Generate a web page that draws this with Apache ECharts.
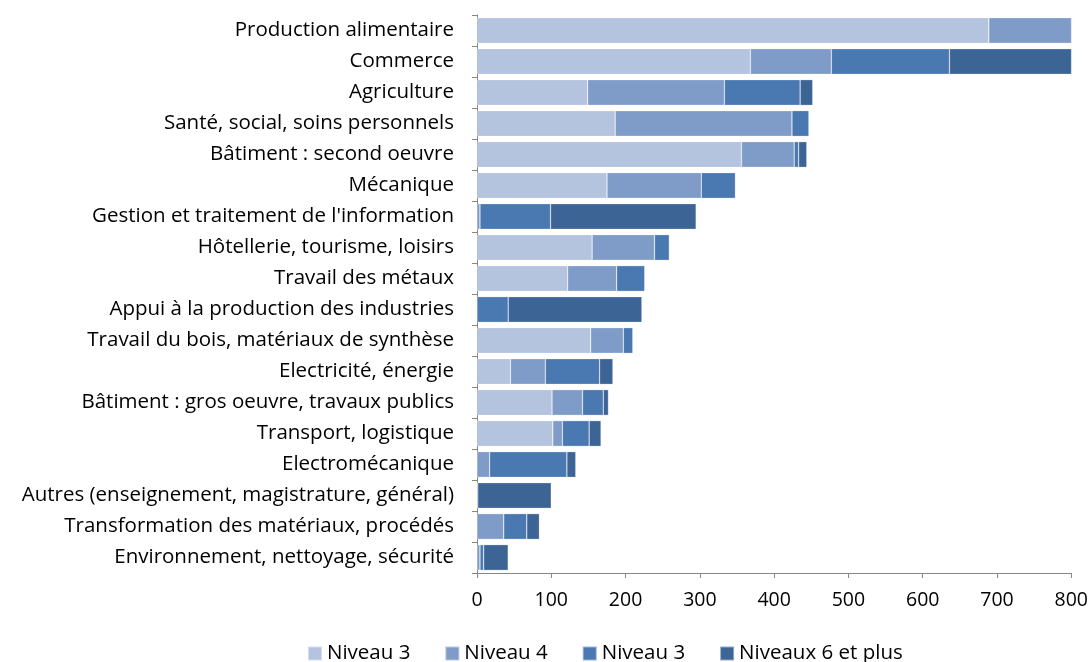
<!DOCTYPE html>
<html><head><meta charset="utf-8">
<script src="https://cdn.jsdelivr.net/npm/echarts@6/dist/echarts.min.js"></script>
<style>html,body{margin:0;padding:0;background:#fff}#c{width:1091px;height:662px}</style>
</head><body><div id="c"></div>
<script>
const categories = ["Production alimentaire","Commerce","Agriculture","Santé, social, soins personnels","Bâtiment : second oeuvre","Mécanique","Gestion et traitement de l'information","Hôtellerie, tourisme, loisirs","Travail des métaux","Appui à la production des industries","Travail du bois, matériaux de synthèse","Electricité, énergie","Bâtiment : gros oeuvre, travaux publics","Transport, logistique","Electromécanique","Autres (enseignement, magistrature, général)","Transformation des matériaux, procédés","Environnement, nettoyage, sécurité"];
const seriesNames = ["Niveau 3","Niveau 4","Niveau 3\u200b","Niveaux 6 et plus"];
const niveau3a = [689,368,149,186,356,175,0,155,122,0,153,45,101,102,0,0,0,0];
const niveau4  = [130,109,184,238,71,127,4,84,66,0,44,47,41,13,17,0,36,4];
const niveau3b = [0,159,102,23,6,46,95,20,38,42,13,73,28,36,104,1,31,5];
const niveau6  = [0,180,17,0,11,0,196,0,0,180,0,18,7,16,12,99,17,33];
const xTicks = {min:0,max:800,interval:100};
const colors = ["#B4C3DE","#7F9CC8","#4A78B0","#3C6494"];
const values = [niveau3a,niveau4,niveau3b,niveau6];
const FONT = "Open Sans";
const chart = echarts.init(document.getElementById('c'));
chart.setOption({
  animation:false,
  color:colors,
  textStyle:{fontFamily:FONT},
  grid:{left:477,right:14,top:15,bottom:89,containLabel:false},
  legend:{top:638,left:302,itemWidth:14,itemHeight:14,itemGap:34,icon:'rect',
    textStyle:{fontFamily:FONT,fontSize:20.5,color:'#000'},
    formatter:n=>n.replace('\u200b','')},
  xAxis:{type:'value',min:xTicks.min,max:xTicks.max,interval:xTicks.interval,
    splitLine:{show:false},
    axisLine:{show:true,lineStyle:{color:'#868686',width:1}},
    axisTick:{show:true,length:5,lineStyle:{color:'#868686'}},
    axisLabel:{fontFamily:FONT,fontSize:19.5,color:'#000',margin:17}},
  yAxis:{type:'category',data:categories,inverse:true,
    axisLine:{show:true,lineStyle:{color:'#868686',width:1}},
    axisTick:{show:true,length:5,lineStyle:{color:'#868686'}},
    axisLabel:{fontFamily:FONT,fontSize:20.5,color:'#000',margin:23}},
  series:seriesNames.map((n,i)=>({name:n,type:'bar',stack:'t',data:values[i],
    barCategoryGap:'17%',
    itemStyle:{color:colors[i],borderColor:'rgba(255,255,255,0.45)',borderWidth:0.6}}))
});
</script></body></html>
